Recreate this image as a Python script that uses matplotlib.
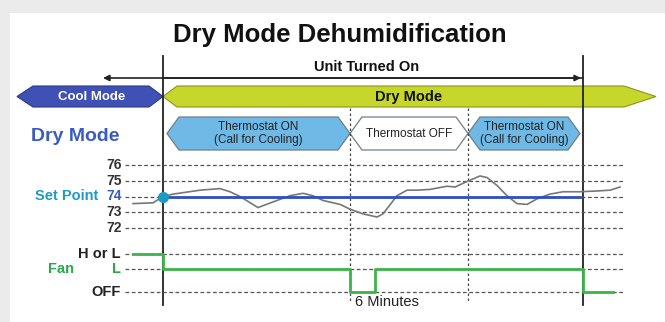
import numpy as np
import matplotlib.pyplot as plt
from matplotlib.patches import Polygon, Rectangle

plt.rcParams['font.family'] = ['Liberation Sans', 'DejaVu Sans']

# room temperature trace (x position along the timeline, degrees F)
temp_x = [133, 153, 163, 173, 200, 220, 230, 240, 258, 277, 290, 303, 313, 323,
          340, 350, 363, 377, 383, 397, 407, 417, 430, 447, 455, 467, 480, 487,
          497, 507, 517, 527, 537, 550, 563, 580, 597, 610, 620]
temp_y = [73.55, 73.6, 74.0, 74.15, 74.4, 74.5, 74.3, 74.0, 73.3, 73.75, 74.05,
          74.2, 74.05, 73.75, 73.5, 73.2, 72.9, 72.7, 72.9, 74.05, 74.4, 74.4,
          74.45, 74.65, 74.6, 74.95, 75.3, 75.2, 74.7, 74.05, 73.55, 73.5, 73.85,
          74.15, 74.3, 74.3, 74.35, 74.4, 74.6]
temp_ticks = [72, 73, 74, 75, 76]
set_point = 74

# fan speed steps
fan_x = [133, 163, 163, 350, 350, 375, 375, 583, 583, 613]
fan_y = [1.65, 1.65, 1, 1, 0, 0, 1, 1, 0, 0]
fan_ticks = [0, 1, 1.65]
fan_labels = ['OFF', 'L', 'H or L']

# timeline events
unit_on, unit_off = 163, 583
thermo_switch = [350, 468]
phase_labels = ['Thermostat ON\n(Call for Cooling)', 'Thermostat OFF',
                'Thermostat ON\n(Call for Cooling)']
phase_colors = ['#6fb9e6', '#ffffff', '#6fb9e6']

W, H = 665, 322
fig = plt.figure(figsize=(W / 100, H / 100), dpi=100)
fig.patch.set_facecolor('#ebebeb')

# base canvas in pixel units for the banners
base = fig.add_axes([0, 0, 1, 1])
base.set_xlim(0, W)
base.set_ylim(H, 0)
base.axis('off')
base.add_patch(Rectangle((10, 13), W, H, facecolor='white', edgecolor='none'))

base.text(340, 35, 'Dry Mode Dehumidification', ha='center', va='center',
          fontsize=18.5, fontweight='bold', color='#111111')

# unit on arrow
base.annotate('', xy=(103, 78), xytext=(unit_off, 78),
              arrowprops=dict(arrowstyle='-|>', color='#222222', lw=1.2,
                              mutation_scale=9, shrinkA=0, shrinkB=0))
base.annotate('', xy=(unit_off - 2, 78), xytext=(unit_on, 78),
              arrowprops=dict(arrowstyle='-|>', color='#222222', lw=1.2,
                              mutation_scale=9, shrinkA=0, shrinkB=0))
base.text(367, 67, 'Unit Turned On', ha='center', va='center', fontsize=10.5,
          fontweight='bold', color='#111111')

# mode banners
top, bot = 86, 107
mid = (top + bot) / 2
cool = Polygon([(17, mid), (33, top), (149, top), (unit_on, mid), (149, bot), (33, bot)],
               closed=True, facecolor='#3f51b5', edgecolor='#2a3a8a', lw=0.8)
base.add_patch(cool)
base.text(92, mid, 'Cool Mode', ha='center', va='center', fontsize=9.5,
          fontweight='bold', color='white')
dry = Polygon([(unit_on, mid), (177, top), (624, top), (656, mid), (624, bot), (177, bot)],
              closed=True, facecolor='#c6d62a', edgecolor='#8a9520', lw=0.8)
base.add_patch(dry)
base.text(409, mid, 'Dry Mode', ha='center', va='center', fontsize=10.5,
          fontweight='bold', color='#111111')

# thermostat phase boxes
ptop, pbot = 117, 150
pmid = (ptop + pbot) / 2
edges = [167, thermo_switch[0], thermo_switch[1], 580]
for i, (lab, col) in enumerate(zip(phase_labels, phase_colors)):
    x0, x1 = edges[i], edges[i + 1]
    poly = Polygon([(x0, pmid), (x0 + 12, ptop), (x1 - 12, ptop), (x1, pmid),
                    (x1 - 12, pbot), (x0 + 12, pbot)], closed=True,
                   facecolor=col, edgecolor='#6f7f88', lw=0.9)
    base.add_patch(poly)
    base.text((x0 + x1) / 2, pmid, lab, ha='center', va='center', fontsize=8.5,
              color='#222222', linespacing=1.05)

base.text(75, 136, 'Dry Mode', ha='center', va='center', fontsize=14,
          fontweight='bold', color='#3a5cc0')

# temperature panel
ax_t = fig.add_axes([0, (H - 236) / H, 1, 79 / H])
ax_t.set_xlim(0, W)
ax_t.set_ylim(71.5, 76.5)
ax_t.axis('off')
ax_t.patch.set_alpha(0)
ax_t.hlines(temp_ticks, 125, 623, colors='#555555', linestyles=(0, (3, 2)), lw=0.9)
for t in temp_ticks:
    ax_t.text(122, t, str(t), ha='right', va='center', fontsize=10,
              fontweight='bold', color='#3a5cc0' if t == set_point else '#333333')
ax_t.text(98, set_point, 'Set Point', ha='right', va='center', fontsize=10.5,
          fontweight='bold', color='#1f9ac4')
ax_t.plot(temp_x, temp_y, color='#777777', lw=1.2, zorder=3)
ax_t.plot([unit_on, 580], [set_point, set_point], color='#2d4fc0', lw=2, zorder=4)
ax_t.plot([unit_on], [set_point], 'o', color='#1f9ac4', ms=7, zorder=6)

# fan panel
ax_f = fig.add_axes([0, (H - 300) / H, 1, 55 / H])
ax_f.set_xlim(0, W)
ax_f.set_ylim(-8 / 23, 1 + 24 / 23)
ax_f.axis('off')
ax_f.patch.set_alpha(0)
ax_f.hlines(fan_ticks, 125, 623, colors='#555555', linestyles=(0, (3, 2)), lw=0.9)
for v, lab in zip(fan_ticks, fan_labels):
    ax_f.text(121, v, lab, ha='right', va='center', fontsize=10.5,
              fontweight='bold', color='#2aa84a' if lab == 'L' else '#222222')
ax_f.text(61, 1, 'Fan', ha='center', va='center', fontsize=10.5,
          fontweight='bold', color='#2aa84a')
ax_f.plot(fan_x, fan_y, color='#3cb449', lw=2, zorder=4)

# timeline markers
for x in (unit_on, unit_off):
    base.plot([x, x], [56, 305], color='#222222', lw=1.3, zorder=5)
for x in thermo_switch:
    base.plot([x, x], [108, 302], color='#444444', lw=0.9, ls=(0, (2, 2)), zorder=1)
base.text(355, 302, '6 Minutes', ha='left', va='center', fontsize=10.5,
          color='#222222')

fig.savefig('out.png', dpi=100, facecolor=fig.get_facecolor())
